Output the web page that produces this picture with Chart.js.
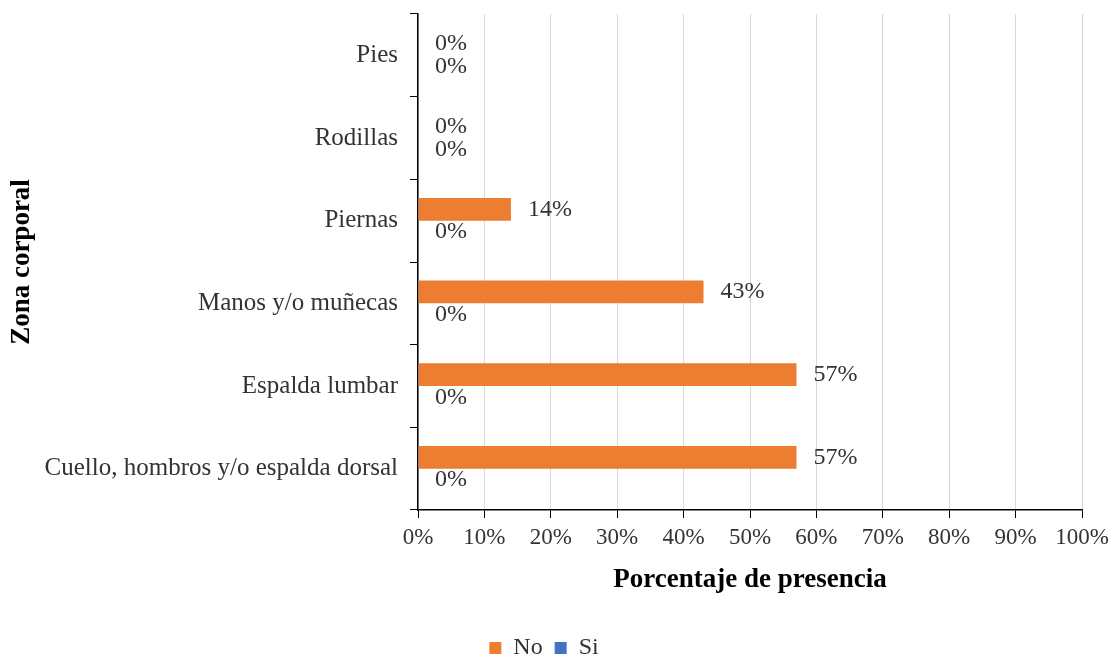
<!DOCTYPE html>
<html>
<head>
<meta charset="utf-8">
<script src="https://cdn.jsdelivr.net/npm/chart.js@4"></script>
<style>
  html, body { margin: 0; padding: 0; background: #fff; }
  #wrap { width: 1115px; height: 660px; }
</style>
</head>
<body>
<div id="wrap"><canvas id="zonaChart"></canvas></div>
<script>
const zonas = ['Pies', 'Rodillas', 'Piernas', 'Manos y/o muñecas', 'Espalda lumbar', 'Cuello, hombros y/o espalda dorsal'];
const valoresNo = [0, 0, 14, 43, 57, 57];
const valoresSi = [0, 0, 0, 0, 0, 0];
const ticksX = [0, 10, 20, 30, 40, 50, 60, 70, 80, 90, 100];

const SERIF = '"Liberation Serif", "Times New Roman", serif';

// Writes "NN%" just past the end of each bar
const barLabels = {
    id: 'barLabels',
    afterDatasetsDraw(chart) {
        const ctx = chart.ctx;
        ctx.save();
        ctx.font = '24px ' + SERIF;
        ctx.fillStyle = '#333';
        ctx.textAlign = 'left';
        ctx.textBaseline = 'middle';
        chart.data.datasets.forEach((ds, i) => {
            chart.getDatasetMeta(i).data.forEach((bar, j) => {
                ctx.fillText(ds.data[j] + '%', bar.x + 17, bar.y);
            });
        });
        ctx.restore();
    }
};

new Chart(document.getElementById('zonaChart'), {
    type: 'bar',
    data: {
        labels: zonas,
        datasets: [
            { label: 'No', data: valoresNo, backgroundColor: '#ed7d31' },
            { label: 'Si', data: valoresSi, backgroundColor: '#4472c4' }
        ]
    },
    options: {
        indexAxis: 'y',
        responsive: true,
        maintainAspectRatio: false,
        animation: false,
        layout: { padding: { top: 14, right: 33, left: 6, bottom: -10 } },
        datasets: { bar: { categoryPercentage: 0.55, barPercentage: 1 } },
        scales: {
            x: {
                min: 0,
                max: 100,
                afterBuildTicks: axis => { axis.ticks = ticksX.map(v => ({ value: v })); },
                ticks: {
                    callback: v => v + '%',
                    color: '#333',
                    font: { family: SERIF, size: 23 },
                    maxRotation: 0,
                    padding: 6
                },
                grid: { color: '#d9d9d9', tickColor: '#000', tickLength: 8, lineWidth: 1 },
                border: { color: '#000', width: 1.5 },
                title: {
                    display: true,
                    text: 'Porcentaje de presencia',
                    color: '#000',
                    font: { family: SERIF, size: 27, weight: 'bold' },
                    padding: { top: 6, bottom: 28 }
                }
            },
            y: {
                afterFit: axis => {
                    axis.width = 412;
                    axis.paddingTop = 0;
                    axis.paddingBottom = 0;
                },
                ticks: {
                    color: '#333',
                    font: { family: SERIF, size: 25 },
                    padding: 12
                },
                grid: { drawOnChartArea: false, offset: true, tickColor: '#000', tickLength: 8 },
                border: { color: '#000', width: 1.5 },
                title: {
                    display: true,
                    text: 'Zona corporal',
                    color: '#000',
                    font: { family: SERIF, size: 27, weight: 'bold' },
                    padding: { top: 0, bottom: 0 }
                }
            }
        },
        plugins: {
            legend: {
                position: 'bottom',
                labels: {
                    boxWidth: 12,
                    boxHeight: 12,
                    padding: 12,
                    color: '#333',
                    font: { family: SERIF, size: 24 }
                }
            },
            tooltip: { enabled: false }
        }
    },
    plugins: [barLabels]
});
</script>
</body>
</html>
